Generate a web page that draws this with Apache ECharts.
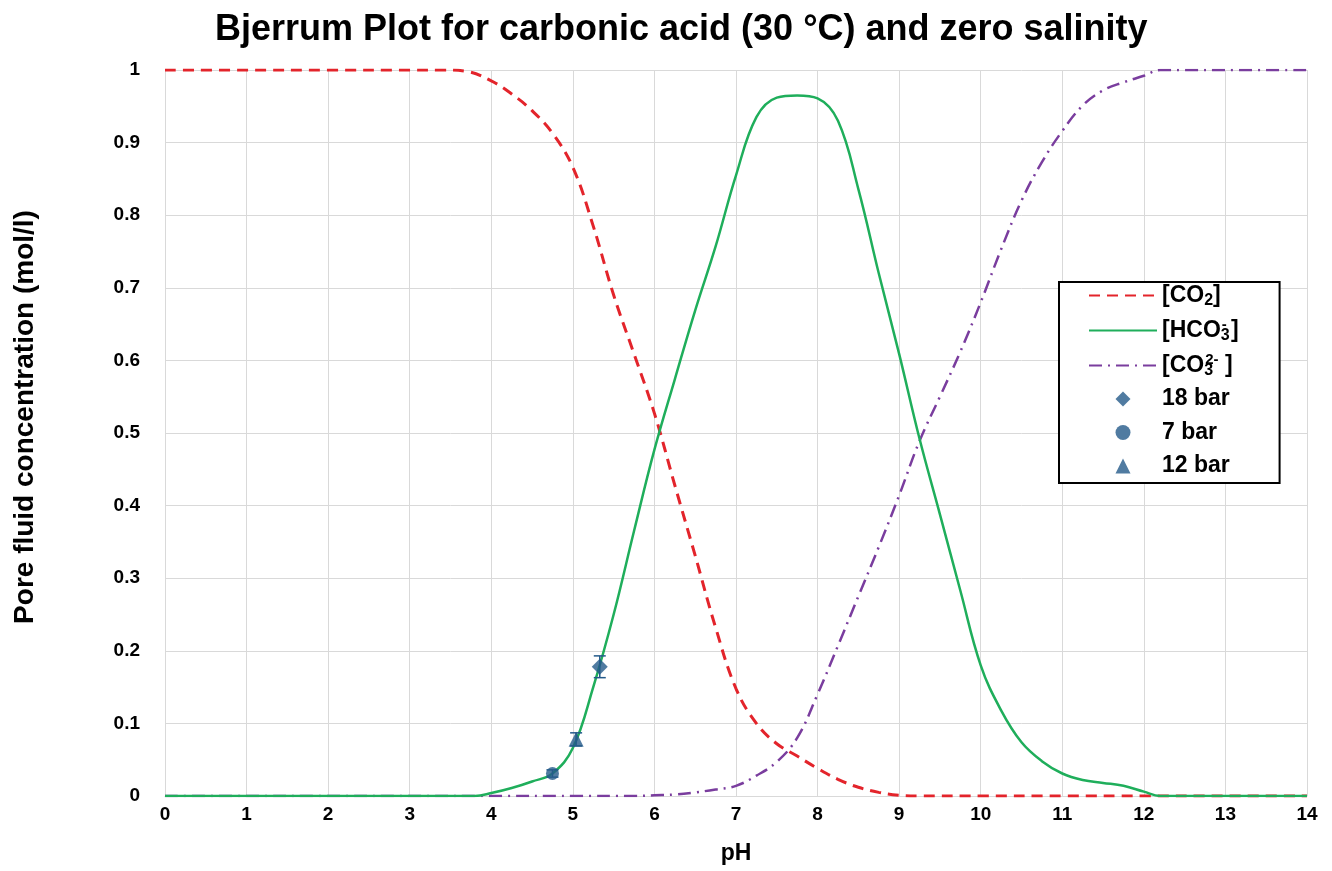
<!DOCTYPE html>
<html>
<head>
<meta charset="utf-8">
<script src="https://cdn.jsdelivr.net/npm/echarts@6/dist/echarts.min.js"></script>
<style>
  html, body { margin: 0; padding: 0; background: #fff; }
  #chart { width: 1332px; height: 871px; }
</style>
</head>
<body>
<div id="chart"></div>
<script>
// Speciation of dissolved inorganic carbon vs pH, 30 °C, zero salinity
const co2Curve = [
  [0, 1], [1, 1], [2, 1], [3, 1], [3.4, 1], [3.7, 0.998], [4.0, 0.985],
  [4.25, 0.967], [4.5, 0.944], [4.75, 0.913], [5.0, 0.866], [5.25, 0.785],
  [5.5, 0.69], [5.75, 0.609], [6.0, 0.527], [6.25, 0.428], [6.5, 0.331],
  [6.75, 0.232], [7.0, 0.148], [7.25, 0.1], [7.5, 0.072], [7.75, 0.055],
  [8.0, 0.038], [8.25, 0.023], [8.5, 0.012], [8.75, 0.005], [9.0, 0.001],
  [9.25, 0], [10, 0], [11, 0], [12, 0], [13, 0], [14, 0]
];
const hco3Curve = [
  [0, 0], [1, 0], [2, 0], [3, 0], [3.5, 0], [3.8, 0], [4.0, 0.004],
  [4.25, 0.011], [4.5, 0.02], [4.75, 0.031], [5.0, 0.066], [5.25, 0.15],
  [5.5, 0.25], [5.75, 0.365], [6.0, 0.477], [6.25, 0.574], [6.5, 0.669],
  [6.75, 0.757], [7.0, 0.855], [7.25, 0.935], [7.5, 0.962], [7.75, 0.965],
  [8.0, 0.961], [8.25, 0.93], [8.5, 0.836], [8.75, 0.72], [9.0, 0.609],
  [9.25, 0.492], [9.5, 0.388], [9.75, 0.283], [10.0, 0.18], [10.25, 0.118],
  [10.5, 0.074], [10.75, 0.048], [11.0, 0.031], [11.25, 0.022], [11.5, 0.018],
  [11.75, 0.014], [12.0, 0.006], [12.2, 0], [12.5, 0], [13, 0], [14, 0]
];
const co3Curve = [
  [0, 0], [1, 0], [2, 0], [3, 0], [4, 0], [5, 0], [5.75, 0], [6.0, 0.001],
  [6.25, 0.002], [6.5, 0.005], [6.75, 0.009], [7.0, 0.014], [7.25, 0.028],
  [7.5, 0.047], [7.75, 0.08], [8.0, 0.14], [8.25, 0.207], [8.5, 0.275],
  [8.75, 0.343], [9.0, 0.414], [9.25, 0.489], [9.5, 0.55], [9.75, 0.612],
  [10.0, 0.68], [10.25, 0.753], [10.5, 0.82], [10.75, 0.873], [11.0, 0.916],
  [11.25, 0.951], [11.5, 0.972], [11.75, 0.983], [12.0, 0.992], [12.2, 1],
  [12.5, 1], [13, 1], [14, 1]
];

// Measured pore fluid samples: [pH, concentration], with ± uncertainty
const sample18bar = [[5.33, 0.178]];
const sample7bar = [[4.75, 0.031]];
const sample12bar = [[5.04, 0.078]];
const err18bar = [0.015];
const err7bar = [0.005];
const err12bar = [0.009];

const xTicks = [0, 14, 1];
const yTicks = [0, 1, 0.1];

const MARK = '#245a8a';
const FONT = '"Liberation Sans", Arial, sans-serif';
const DIAMOND = 'path://M0,-1L1,0L0,1L-1,0Z';
const TRIANGLE = 'path://M0,-1L1,1L-1,1Z';

function errorBars(points, errs) {
  return points.map((p, i) => [p[0], p[1] - errs[i], p[1] + errs[i]]);
}
const errorData = [].concat(
  errorBars(sample18bar, err18bar),
  errorBars(sample7bar, err7bar),
  errorBars(sample12bar, err12bar)
);

const chart = echarts.init(document.getElementById('chart'));
const legendRich = {
  b: { fontFamily: FONT, fontWeight: 'bold', fontSize: 23, lineHeight: 26, color: '#000' },
  sub: { fontFamily: FONT, fontWeight: 'bold', fontSize: 16, lineHeight: 15, verticalAlign: 'bottom', color: '#000' },
  subk: { fontFamily: FONT, fontWeight: 'bold', fontSize: 16, lineHeight: 15, verticalAlign: 'bottom', width: 1, color: '#000' },
  sup: { fontFamily: FONT, fontWeight: 'bold', fontSize: 15, lineHeight: 14, verticalAlign: 'top', color: '#000' }
};
const legendText = {
  co2: '{b|[CO}{sub|2}{b|]}',
  hco3: '{b|[HCO}{subk|3}{sup|- }{b|]}',
  co3: '{b|[CO}{subk|3}{sup|2-}{b| ]}'
};
const noMarker = { opacity: 0 };

chart.setOption({
  animation: false,
  backgroundColor: '#fff',
  title: {
    text: 'Bjerrum Plot for carbonic acid (30 °C) and zero salinity',
    left: 210,
    top: 7,
    textStyle: { fontFamily: FONT, fontWeight: 'bold', fontSize: 36, color: '#000' }
  },
  grid: { left: 165, right: 25, top: 70, bottom: 75, containLabel: false },
  legend: {
    orient: 'vertical',
    left: 1059,
    top: 282,
    padding: [2, 41, 4, 29],
    itemGap: 9,
    itemWidth: 68,
    itemHeight: 15,
    symbolKeepAspect: true,
    borderColor: '#000',
    borderWidth: 2,
    backgroundColor: '#fff',
    data: [
      { name: 'co2', itemStyle: noMarker },
      { name: 'hco3', itemStyle: noMarker },
      { name: 'co3', itemStyle: noMarker },
      { name: '18 bar', icon: DIAMOND },
      { name: '7 bar', icon: 'path://M1,0A1,1,0,1,1,-1,0A1,1,0,1,1,1,0Z' },
      { name: '12 bar', icon: TRIANGLE }
    ],
    formatter: function (name) { return legendText[name] || ('{b|' + name + '}{sub|\u00a0}'); },
    textStyle: { rich: legendRich, fontFamily: FONT, fontWeight: 'bold', fontSize: 23, color: '#000' }
  },
  xAxis: {
    type: 'value',
    min: xTicks[0], max: xTicks[1], interval: xTicks[2],
    name: 'pH', nameLocation: 'middle', nameGap: 46,
    nameTextStyle: { fontFamily: FONT, fontWeight: 'bold', fontSize: 23, color: '#000' },
    axisLine: { show: true, lineStyle: { color: '#d9d9d9', width: 1 } },
    axisTick: { show: false },
    axisLabel: { margin: 9, fontFamily: FONT, fontWeight: 'bold', fontSize: 19, color: '#000' },
    splitLine: { show: true, lineStyle: { color: '#d9d9d9', width: 1 } }
  },
  yAxis: {
    type: 'value',
    min: yTicks[0], max: yTicks[1], interval: yTicks[2],
    name: 'Pore fluid concentration (mol/l)', nameLocation: 'middle', nameGap: 126, nameRotate: 90,
    nameTextStyle: { fontFamily: FONT, fontWeight: 'bold', fontSize: 28, color: '#000', padding: [0, 0, 0, 32] },
    axisLine: { show: true, lineStyle: { color: '#d9d9d9', width: 1 } },
    axisTick: { show: false },
    axisLabel: {
      margin: 25, fontFamily: FONT, fontWeight: 'bold', fontSize: 19, color: '#000',
      formatter: v => String(Math.round(v * 10) / 10)
    },
    splitLine: { show: true, lineStyle: { color: '#d9d9d9', width: 1 } }
  },
  series: [
    {
      name: 'co2', type: 'line', data: co2Curve, smooth: 0.4, symbol: 'none',
      lineStyle: { color: '#e3242b', width: 3, type: [11, 7] },
      itemStyle: { color: '#e3242b' }, z: 3
    },
    {
      name: 'hco3', type: 'line', data: hco3Curve, smooth: 0.4, symbol: 'none',
      lineStyle: { color: '#1fae5b', width: 2.5 },
      itemStyle: { color: '#1fae5b' }, z: 4
    },
    {
      name: 'co3', type: 'line', data: co3Curve, smooth: 0.4, symbol: 'none',
      lineStyle: { color: '#7a3d9e', width: 2.5, type: [13, 6, 2, 6] },
      itemStyle: { color: '#7a3d9e' }, z: 3
    },
    {
      name: 'errors', type: 'custom', data: errorData, z: 5,
      renderItem: function (params, api) {
        const x = api.value(0);
        const lo = api.coord([x, api.value(1)]);
        const hi = api.coord([x, api.value(2)]);
        const cap = 6;
        const style = { stroke: MARK, lineWidth: 1.5 };
        return {
          type: 'group',
          children: [
            { type: 'line', shape: { x1: lo[0], y1: lo[1], x2: hi[0], y2: hi[1] }, style },
            { type: 'line', shape: { x1: lo[0] - cap, y1: lo[1], x2: lo[0] + cap, y2: lo[1] }, style },
            { type: 'line', shape: { x1: hi[0] - cap, y1: hi[1], x2: hi[0] + cap, y2: hi[1] }, style }
          ]
        };
      }
    },
    {
      name: '18 bar', type: 'scatter', data: sample18bar, symbol: 'diamond', symbolSize: 16,
      itemStyle: { color: MARK }, z: 6
    },
    {
      name: '7 bar', type: 'scatter', data: sample7bar, symbol: 'circle', symbolSize: 13,
      itemStyle: { color: MARK }, z: 6
    },
    {
      name: '12 bar', type: 'scatter', data: sample12bar, symbol: 'triangle', symbolSize: 15,
      itemStyle: { color: MARK }, z: 6
    }
  ]
});
</script>
</body>
</html>
